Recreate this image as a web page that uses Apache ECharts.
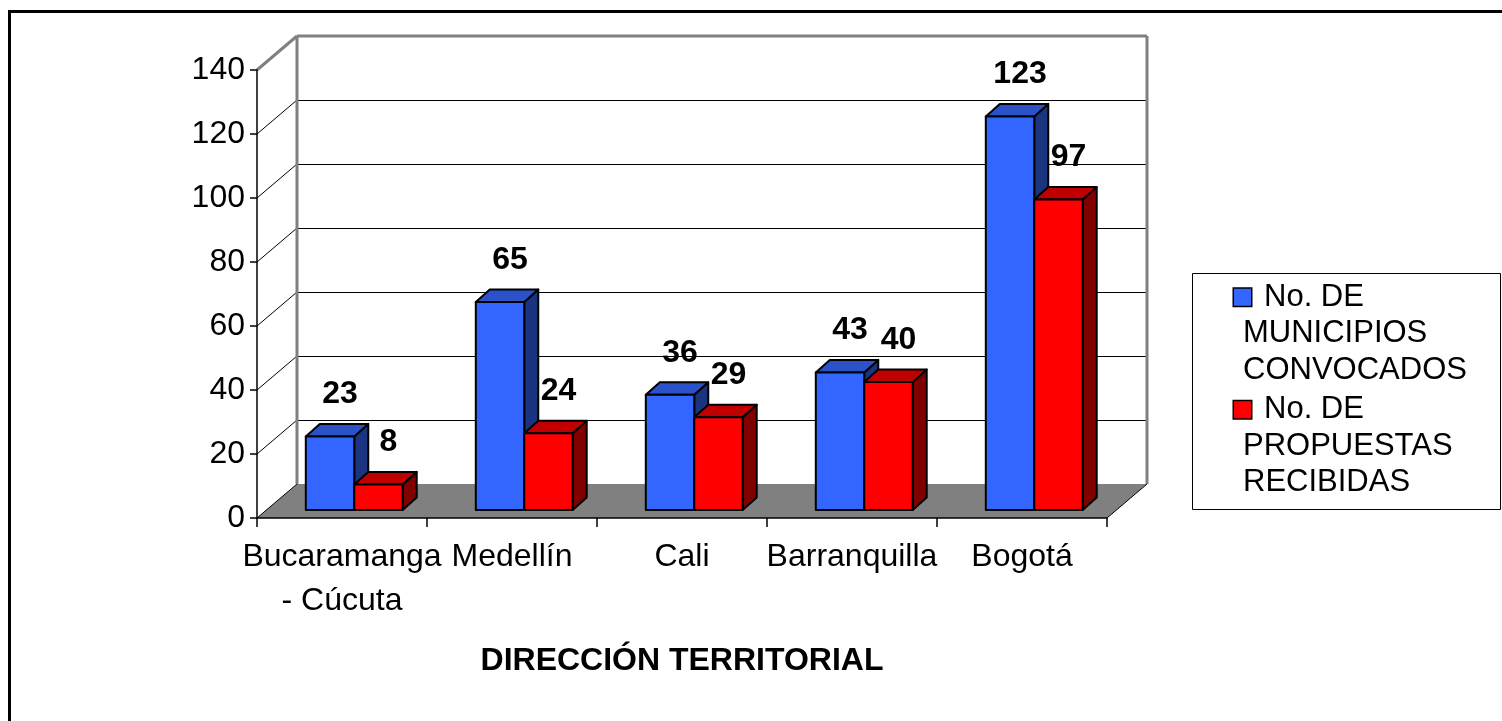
<!DOCTYPE html>
<html>
<head>
<meta charset="utf-8">
<script src="https://cdn.jsdelivr.net/npm/echarts@6/dist/echarts.min.js"></script>
<style>
  html, body { margin: 0; padding: 0; background: #fff; }
  #chart { width: 1502px; height: 721px; }
</style>
</head>
<body>
<div id="chart"></div>
<script>
  // datos
  let categorias = ['Bucaramanga\n- Cúcuta', 'Medellín', 'Cali', 'Barranquilla', 'Bogotá']
  let municipios = [23, 65, 36, 43, 123]
  let propuestas = [8, 24, 29, 40, 97]
  let yTicks = [0, 20, 40, 60, 80, 100, 120, 140]
  let nombres = ['No. DE MUNICIPIOS CONVOCADOS', 'No. DE PROPUESTAS RECIBIDAS']

  const FONT = "'Liberation Sans', Arial, sans-serif"
  // falso 3D: desplazamiento de la pared del fondo y de las barras
  const WALL_DX = 40, WALL_DY = -34
  const BAR_SX = 12.25, BAR_SY = -8
  const BAR_DX = 14, BAR_DY = -12.5

  let dom = document.getElementById('chart')
  let myChart = echarts.init(dom)

  function crisp(y) {
    return Math.round(y) + 0.5
  }

  function renderWalls(params, api) {
    let cs = params.coordSys
    let v = api.value(1)
    let y = api.coord([0, v])[1]
    let y0 = api.coord([0, 0])[1]
    let x0 = cs.x, x1 = cs.x + cs.width
    let top = v === yTicks[yTicks.length - 1]
    let children = []
    if (v === 0) {
      children.push({
        type: 'polygon',
        shape: { points: [[x0, y0], [x1, y0], [x1 + WALL_DX, y0 + WALL_DY], [x0 + WALL_DX, y0 + WALL_DY]] },
        style: { fill: '#808080' }
      })
      children.push({
        type: 'line',
        shape: { x1: x1, y1: y0, x2: x1 + WALL_DX, y2: y0 + WALL_DY },
        style: { stroke: '#000', lineWidth: 1 }
      })
    }
    let lineStyle = top ? { stroke: '#808080', lineWidth: 3 } : { stroke: '#000', lineWidth: 1 }
    children.push({
      type: 'line',
      shape: { x1: x0, y1: y, x2: x0 + WALL_DX, y2: y + WALL_DY },
      style: lineStyle
    })
    if (v !== 0) {
      let yb = top ? y + WALL_DY : crisp(y + WALL_DY)
      children.push({
        type: 'line',
        shape: { x1: x0 + WALL_DX, y1: yb, x2: x1 + WALL_DX, y2: yb },
        style: lineStyle
      })
    }
    if (top) {
      children.push({
        type: 'line',
        shape: { x1: x0 + WALL_DX, y1: y + WALL_DY, x2: x0 + WALL_DX, y2: y0 + WALL_DY },
        style: { stroke: '#808080', lineWidth: 3 }
      })
      children.push({
        type: 'line',
        shape: { x1: x1 + WALL_DX, y1: y + WALL_DY, x2: x1 + WALL_DX, y2: y0 + WALL_DY },
        style: { stroke: '#808080', lineWidth: 3 }
      })
    }
    return { type: 'group', children: children }
  }

  function renderBar(desde, hasta, colores) {
    return function (params, api) {
      let cat = api.value(0)
      let v = api.value(1)
      let base = api.coord([cat, 0])
      let tope = api.coord([cat, v])
      let band = api.size([1, 0])[0]
      let xl = base[0] + BAR_SX + band * desde
      let xr = base[0] + BAR_SX + band * hasta
      let yb = base[1] + BAR_SY
      let yt = tope[1] + BAR_SY
      let borde = { stroke: '#000', lineWidth: 2, lineJoin: 'round' }
      return {
        type: 'group',
        children: [
          {
            type: 'polygon',
            shape: { points: [[xr, yt], [xr + BAR_DX, yt + BAR_DY], [xr + BAR_DX, yb + BAR_DY], [xr, yb]] },
            style: Object.assign({ fill: colores[2] }, borde)
          },
          {
            type: 'polygon',
            shape: { points: [[xl, yt], [xl + BAR_DX, yt + BAR_DY], [xr + BAR_DX, yt + BAR_DY], [xr, yt]] },
            style: Object.assign({ fill: colores[1] }, borde)
          },
          {
            type: 'polygon',
            shape: { points: [[xl, yt], [xr, yt], [xr, yb], [xl, yb]] },
            style: Object.assign({ fill: colores[0] }, borde)
          },
          {
            type: 'text',
            style: {
              text: String(v),
              x: (xl + xr) / 2 + 10,
              y: yt - 42,
              align: 'center',
              verticalAlign: 'middle',
              font: 'bold 32px ' + FONT,
              fill: '#000'
            }
          }
        ]
      }
    }
  }

  let cuadro = { width: 17, height: 17, borderColor: '#000', borderWidth: 1.5 }

  let option = {
    animation: false,
    grid: { left: 257, top: 70, width: 850, height: 448, containLabel: false },
    graphic: [
      {
        type: 'rect',
        shape: { x: 9.5, y: 11.5, width: 1510, height: 730 },
        style: { fill: 'none', stroke: '#000', lineWidth: 3 },
        z: -10
      },
      {
        type: 'rect',
        shape: { x: 1192.5, y: 273.5, width: 308, height: 236 },
        style: { fill: 'none', stroke: '#000', lineWidth: 1 },
        z: -10
      }
    ],
    legend: {
      data: nombres,
      orient: 'vertical',
      left: 1228,
      top: 279,
      padding: 0,
      itemGap: 3,
      icon: 'none',
      itemWidth: 1,
      itemHeight: 1,
      selectedMode: false,
      formatter: function (name) {
        let partes = name.replace('No. DE ', '').split(' ')
        let key = name === nombres[0] ? 'azul' : 'rojo'
        return '{' + key + '|\u00a0}{t|No. DE}\n{u|' + partes[0] + '}\n{u|' + partes[1] + '}'
      },
      textStyle: {
        fontFamily: FONT,
        fontSize: 31,
        color: '#000',
        lineHeight: 36.5,
        rich: {
          azul: Object.assign({ backgroundColor: '#3366FF' }, cuadro),
          rojo: Object.assign({ backgroundColor: '#FF0000' }, cuadro),
          t: { fontFamily: FONT, fontSize: 31, color: '#000', lineHeight: 36.5, padding: [0, 0, 0, 13] },
          u: { fontFamily: FONT, fontSize: 31, color: '#000', lineHeight: 36.5, padding: [0, 0, 0, 9] }
        }
      }
    },
    xAxis: {
      type: 'category',
      data: categorias,
      boundaryGap: true,
      name: 'DIRECCIÓN TERRITORIAL',
      nameLocation: 'middle',
      nameGap: 127,
      nameTextStyle: { fontFamily: FONT, fontSize: 32, fontWeight: 'bold', color: '#000' },
      axisLine: { lineStyle: { color: '#000', width: 1.5 } },
      axisTick: { show: true, length: 9, lineStyle: { color: '#000', width: 1.5 } },
      axisLabel: { interval: 0, margin: 17, fontFamily: FONT, fontSize: 32, lineHeight: 44, color: '#000' },
      splitLine: { show: false }
    },
    yAxis: {
      type: 'value',
      min: 0,
      max: 140,
      interval: 20,
      axisLine: { show: true, lineStyle: { color: '#000', width: 1.5 } },
      axisTick: { show: true, length: 7, lineStyle: { color: '#000', width: 1.5 } },
      axisLabel: { margin: 12, fontFamily: FONT, fontSize: 32, color: '#000' },
      splitLine: { show: false }
    },
    series: [
      {
        name: 'paredes',
        type: 'custom',
        z: -1,
        silent: true,
        renderItem: renderWalls,
        encode: { x: 0, y: 1 },
        data: yTicks.map(t => [0, t])
      },
      {
        name: nombres[0],
        type: 'custom',
        itemStyle: { color: '#3366FF' },
        renderItem: renderBar(-0.285, 0, ['#3366FF', '#2B52C9', '#1A347F']),
        encode: { x: 0, y: 1 },
        data: municipios.map((v, i) => [i, v])
      },
      {
        name: nombres[1],
        type: 'custom',
        itemStyle: { color: '#FF0000' },
        renderItem: renderBar(0, 0.285, ['#FF0000', '#C00000', '#800000']),
        encode: { x: 0, y: 1 },
        data: propuestas.map((v, i) => [i, v])
      }
    ]
  }

  myChart.setOption(option, true)
</script>
</body>
</html>
